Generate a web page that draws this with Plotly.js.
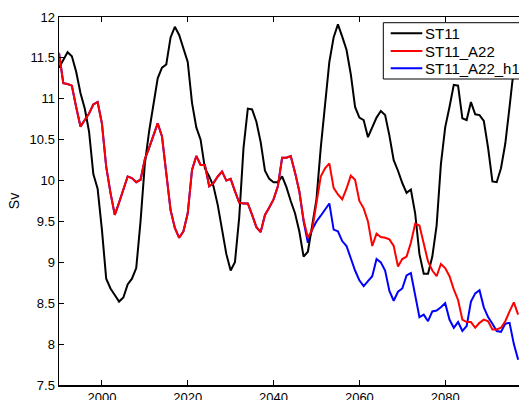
<!DOCTYPE html>
<html>
<head>
<meta charset="utf-8">
<script src="https://cdn.plot.ly/plotly-3.0.1.min.js"></script>
<style>
  html, body { margin: 0; padding: 0; background: #fff; }
  #chart { width: 519px; height: 400px; }
</style>
</head>
<body>
<div id="chart"></div>
<script>
// Annual transport (Sv), 1990-2097
const startYear = 1990;
const endYear = 2097;

const st11 = [
  11.38, 11.47, 11.57, 11.52, 11.33, 11.07, 10.88, 10.60, 10.08, 9.90,
  9.40, 8.80, 8.68, 8.60, 8.52, 8.57, 8.73, 8.80, 8.93, 9.50,
  10.20, 10.60, 10.90, 11.25, 11.38, 11.42, 11.75, 11.88, 11.78, 11.62,
  11.45, 10.95, 10.65, 10.50, 10.15, 10.05, 9.93, 9.70, 9.40, 9.10,
  8.90, 9.00, 9.55, 10.40, 10.88, 10.87, 10.72, 10.47, 10.12, 10.02,
  9.98, 9.98, 10.05, 9.92, 9.75, 9.60, 9.38, 9.07, 9.13, 9.45,
  9.77, 10.40, 10.90, 11.45, 11.75, 11.91, 11.76, 11.60, 11.30, 10.90,
  10.77, 10.74, 10.53, 10.66, 10.77, 10.85, 10.80, 10.55, 10.25, 10.12,
  9.97, 9.85, 9.89, 9.60, 9.10, 8.86, 8.86, 9.07, 9.45, 10.20,
  10.65, 10.90, 11.17, 11.16, 10.76, 10.74, 10.96, 10.81, 10.80, 10.73,
  10.40, 9.99, 9.98, 10.15, 10.45, 10.90, 11.40, 11.85
];

const st11A22 = [
  11.56, 11.19, 11.18, 11.16, 10.90, 10.66, 10.74, 10.82, 10.93, 10.96,
  10.70, 10.17, 9.85, 9.58, 9.73, 9.90, 10.05, 10.03, 9.98, 10.01,
  10.26, 10.40, 10.54, 10.70, 10.54, 10.10, 9.64, 9.42, 9.30, 9.38,
  9.60, 10.13, 10.30, 10.19, 10.19, 9.93, 9.97, 10.05, 10.11, 10.00,
  10.02, 9.87, 9.73, 9.72, 9.72, 9.58, 9.43, 9.37, 9.58, 9.67,
  9.77, 9.93, 10.28, 10.28, 10.30, 10.10, 9.87, 9.52, 9.30, 9.40,
  9.75, 10.05, 10.15, 10.21, 9.91, 9.83, 9.77, 9.90, 10.06, 10.01,
  9.75, 9.66, 9.50, 9.20, 9.35, 9.31, 9.30, 9.28, 9.20, 8.95,
  9.04, 9.07, 9.24, 9.47, 9.45, 9.24, 9.01, 8.90, 8.83, 8.98,
  8.93, 8.83, 8.67, 8.54, 8.30, 8.27, 8.27, 8.20, 8.26, 8.30,
  8.28, 8.18, 8.18, 8.20, 8.28, 8.40, 8.51, 8.36
];

// h1 run follows ST11_A22 until 2046, then departs
const h1From = 2047;
const st11A22h1Tail = [
  9.50, 9.24, 9.40, 9.50, 9.57, 9.65, 9.72, 9.40, 9.38, 9.26,
  9.20, 9.05, 8.90, 8.78, 8.71, 8.77, 8.83, 9.04, 9.00, 8.90,
  8.65, 8.53, 8.64, 8.68, 8.84, 8.87, 8.60, 8.33, 8.36, 8.28,
  8.40, 8.41, 8.45, 8.50, 8.30, 8.20, 8.27, 8.16, 8.22, 8.52,
  8.62, 8.66, 8.45, 8.33, 8.25, 8.16, 8.15, 8.25, 8.26, 8.00,
  7.81
];

const seriesNames = ['ST11', 'ST11_A22', 'ST11_A22_h1'];
const seriesColors = ['#000000', '#ff0000', '#0000ff'];

const years = [];
for (let y = startYear; y <= endYear; y++) years.push(y);

const st11A22h1 = st11A22.slice(0, h1From - startYear).concat(st11A22h1Tail);

const font = 'Liberation Sans, Arial, Helvetica, sans-serif';

const mk = (vals, i) => ({
  x: years,
  y: vals,
  type: 'scatter',
  mode: 'lines',
  name: seriesNames[i],
  line: { color: seriesColors[i], width: 2 }
});

// blue underneath, then black, red on top
const traces = [mk(st11A22h1, 2), mk(st11, 0), mk(st11A22, 1)];

// Compact boxed legend in the upper right (paper coordinates)
const legendBox = { x0: 0.705, x1: 1.06, y0: 0.8315, y1: 0.9845 };
const legendRows = [0.9557, 0.9076, 0.8606];
const sampleX = [0.7211, 0.7898];
const labelX = 0.7905;

const shapes = [{
  type: 'rect', xref: 'paper', yref: 'paper',
  x0: legendBox.x0, x1: legendBox.x1, y0: legendBox.y0, y1: legendBox.y1,
  fillcolor: '#ffffff', line: { color: '#000', width: 1 }, layer: 'above'
}];
const annotations = [];
seriesNames.forEach((name, i) => {
  shapes.push({
    type: 'line', xref: 'paper', yref: 'paper',
    x0: sampleX[0], x1: sampleX[1], y0: legendRows[i], y1: legendRows[i],
    line: { color: seriesColors[i], width: 2 }, layer: 'above'
  });
  annotations.push({
    xref: 'paper', yref: 'paper', x: labelX, y: legendRows[i],
    xanchor: 'left', yanchor: 'middle', showarrow: false,
    text: name, font: { family: font, size: 15, color: '#000' }
  });
});

const layout = {
  width: 519,
  height: 400,
  margin: { l: 59, r: 0, t: 17, b: 15 },
  paper_bgcolor: '#ffffff',
  plot_bgcolor: '#ffffff',
  font: { family: font, size: 13, color: '#000' },
  showlegend: false,
  shapes: shapes,
  annotations: annotations,
  xaxis: {
    range: [1990, 2097.2],
    tickvals: [2000, 2020, 2040, 2060, 2080],
    ticks: 'inside', ticklen: 5, tickcolor: '#000', tickwidth: 1,
    showline: true, linecolor: '#000', linewidth: 1.5,
    mirror: 'ticks',
    showgrid: false, zeroline: false,
    tickfont: { family: font, size: 13, color: '#000' }
  },
  yaxis: {
    range: [7.5, 12],
    dtick: 0.5, tick0: 7.5,
    ticks: 'inside', ticklen: 5, tickcolor: '#000', tickwidth: 1,
    showline: true, linecolor: '#000', linewidth: 1.5,
    mirror: false,
    showgrid: false, zeroline: false,
    tickfont: { family: font, size: 13, color: '#000' },
    title: { text: 'Sv', font: { family: font, size: 14, color: '#000' }, standoff: 6 }
  }
};

Plotly.newPlot('chart', traces, layout, { staticPlot: true, displayModeBar: false });
</script>
</body>
</html>
